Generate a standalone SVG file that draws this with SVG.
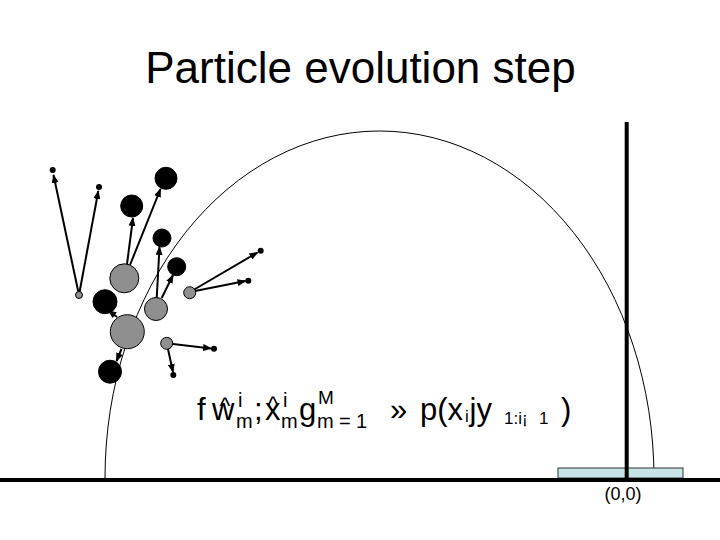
<svg xmlns="http://www.w3.org/2000/svg" width="720" height="540" viewBox="0 0 720 540">
<style>
text{font-family:"Liberation Sans",Arial,sans-serif;fill:#000}
.big{font-size:31px}
.sm{font-size:20px}
.xs{font-size:17px}
.g{fill:#8f8f8f;stroke:#000;stroke-width:1}
.b{fill:#000;stroke:#000;stroke-width:1}
.d{fill:#000}
.arr{stroke:#000;stroke-width:2;fill:none;marker-end:url(#ah)}
</style>
<defs>
<marker id="ah" markerUnits="userSpaceOnUse" markerWidth="9" markerHeight="7" refX="8" refY="3.5" orient="auto">
<path d="M0,0 L9,3.5 L0,7 Z" fill="#000"/>
</marker>
</defs>
<rect width="720" height="540" fill="#fff"/>
<text id="title" x="360.5" y="83" font-size="44" text-anchor="middle">Particle evolution step</text>
<g id="support">
<path d="M105,478 A274.5,347 0 0 1 654,478" fill="none" stroke="#000" stroke-width="1"/>
<rect x="558" y="468" width="125" height="10" fill="#c8e3e7" stroke="#333" stroke-width="1"/>
<line x1="626.7" y1="122" x2="626.7" y2="480" stroke="#000" stroke-width="4"/>
<line x1="0" y1="480" x2="720" y2="480" stroke="#000" stroke-width="4"/>
<text x="623" y="500" font-size="18" text-anchor="middle">(0,0)</text>
</g>
<g id="connectors">
<line class="arr" x1="79" y1="295" x2="53.5" y2="175"/>
<line class="arr" x1="79" y1="295" x2="98.3" y2="191"/>
<line class="arr" x1="127" y1="264" x2="133" y2="218"/>
<line class="arr" x1="130" y1="265" x2="160.5" y2="189"/>
<line class="arr" x1="156.7" y1="298" x2="159.5" y2="247"/>
<line class="arr" x1="161.7" y1="298" x2="173" y2="275"/>
<line class="arr" x1="190" y1="292" x2="257.5" y2="252.5"/>
<line class="arr" x1="190" y1="292" x2="245.5" y2="281"/>
<line class="arr" x1="117" y1="317" x2="108.5" y2="310.5"/>
<line class="arr" x1="121.5" y1="349" x2="116.5" y2="361"/>
<line class="arr" x1="166.7" y1="343.3" x2="211" y2="348.5"/>
<line class="arr" x1="166.7" y1="343.3" x2="173" y2="372"/>
</g>
<g id="particles">
<circle id="g1" class="g" cx="79" cy="295" r="3.5"/>
<circle id="g2" class="g" cx="124.3" cy="278.3" r="14.5"/>
<circle id="g3" class="g" cx="127.3" cy="331.7" r="17"/>
<circle id="g4" class="g" cx="156" cy="309" r="11.5"/>
<circle id="g5" class="g" cx="189.7" cy="292.7" r="6"/>
<circle id="g6" class="g" cx="166.7" cy="343.3" r="6"/>
<circle id="b1" class="b" cx="166" cy="178.3" r="11"/>
<circle id="b2" class="b" cx="131.7" cy="206" r="11"/>
<circle id="b3" class="b" cx="162" cy="238" r="9"/>
<circle id="b4" class="b" cx="176.7" cy="266.7" r="9"/>
<circle id="b5" class="b" cx="105" cy="301.7" r="12"/>
<circle id="b6" class="b" cx="110" cy="371.7" r="11.5"/>
<circle id="d1" class="d" cx="52.7" cy="170" r="3"/>
<circle id="d2" class="d" cx="99" cy="187" r="3"/>
<circle id="d3" class="d" cx="260.7" cy="250.7" r="3"/>
<circle id="d4" class="d" cx="248.3" cy="280.7" r="3"/>
<circle id="d5" class="d" cx="214" cy="348.7" r="3"/>
<circle id="d6" class="d" cx="173.3" cy="375" r="3"/>
</g>
<g id="formula">
<text class="big" x="197" y="420">f</text>
<text class="big" x="212" y="420">w<tspan font-size="23" dx="-15" dy="-6">^</tspan><tspan class="sm" x="238" y="407">i</tspan><tspan class="sm" x="236" y="428">m</tspan></text>
<text class="big" x="254" y="420">;</text>
<text class="big" x="265" y="420">x<tspan font-size="23" dx="-13" dy="-7">^</tspan><tspan class="sm" x="283" y="407">i</tspan><tspan class="sm" x="281" y="428">m</tspan></text>
<text class="big" x="299" y="420">g</text>
<text font-size="19" x="318" y="404">M<tspan class="sm" x="317" y="428">m</tspan><tspan class="sm" x="339" y="428">=</tspan><tspan class="sm" x="356" y="428">1</tspan></text>
<text class="big" x="390" y="420">»</text>
<text class="big" x="420" y="420">p(x</text>
<text class="xs" x="465" y="422">i</text>
<text class="big" x="469.5" y="420">jy</text>
<text class="xs" x="504" y="424">1:i¡</text>
<text class="xs" x="539" y="424">1</text>
<text class="big" x="561" y="420">)</text>
</g>
</svg>
